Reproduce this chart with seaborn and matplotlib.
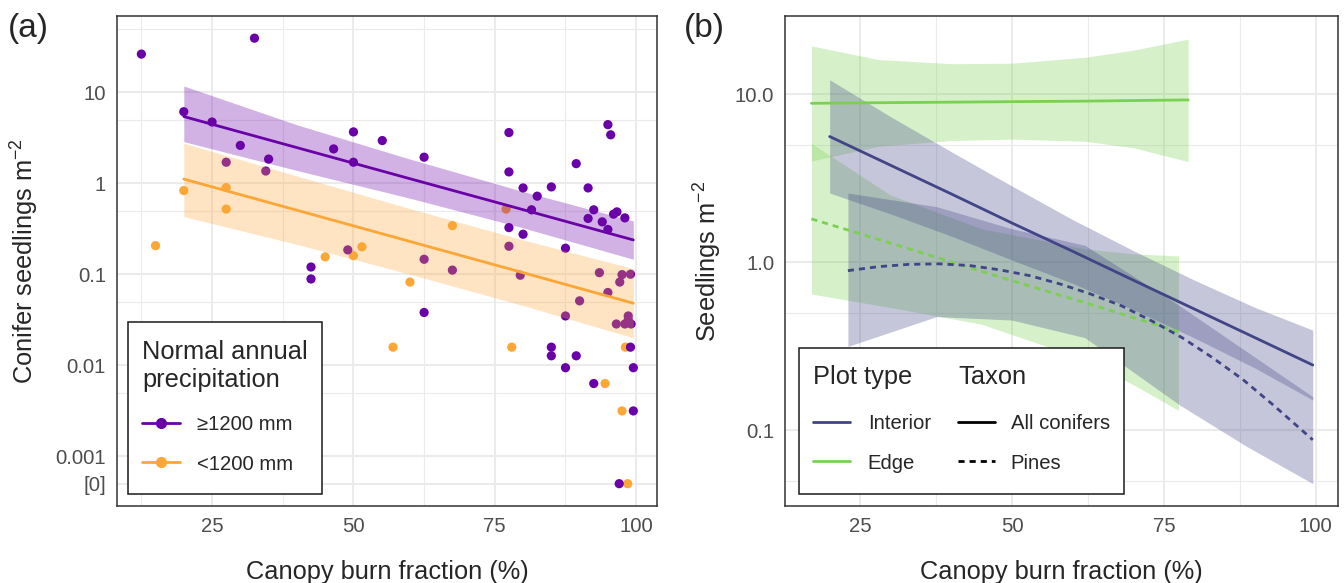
import numpy as np
import pandas as pd
import seaborn as sns
import matplotlib.pyplot as plt
from matplotlib.lines import Line2D
from matplotlib.patches import Rectangle
from matplotlib.ticker import FixedLocator, FixedFormatter, NullFormatter

# ---------- panel (a): seedlings per plot, split by normal annual precipitation
wet_burn = [12.5, 32.5, 20.0, 25.0, 30.0, 35.0, 27.5, 34.5, 46.5, 50.0, 50.0, 55.1,
            42.5, 42.5, 49.0, 62.5, 77.5, 77.5, 80.0, 82.5, 85.0, 81.5, 77.5, 80.0,
            87.5, 89.4, 91.5, 95.0, 95.5, 92.5, 91.5, 94.0, 95.0, 96.0, 96.6, 98.0,
            62.5, 67.5, 77.5, 79.5, 93.5, 97.5, 99.0, 97.1, 95.0, 90.0, 62.5, 87.5,
            85.0, 85.0, 89.4, 87.5, 92.5, 99.0, 99.5, 99.5, 97.0, 96.5, 98.0, 98.6,
            98.6, 99.1]
wet_dens = [26.2, 39.2, 6.1, 4.7, 2.6, 1.84, 1.70, 1.36, 2.38, 3.66, 1.70, 2.94,
            0.120, 0.0887, 0.185, 1.93, 3.6, 1.33, 0.887, 0.72, 0.91, 0.51, 0.325, 0.275,
            0.193, 1.64, 0.887, 4.4, 3.4, 0.51, 0.41, 0.376, 0.31, 0.457, 0.484, 0.416,
            0.146, 0.111, 0.203, 0.0975, 0.104, 0.099, 0.100, 0.082, 0.063, 0.051, 0.038, 0.0348,
            0.0158, 0.0127, 0.0127, 0.0094, 0.0063, 0.0158, 0.0094, 0.00315, 0, 0.0284, 0.0284, 0.0348,
            0.0316, 0.0284]
dry_burn = [15.0, 20.0, 27.5, 27.5, 45.0, 50.0, 51.5, 60.0, 67.5, 77.0, 57.0, 78.0,
            98.1, 94.5, 97.5, 98.5]
dry_dens = [0.206, 0.83, 0.895, 0.52, 0.155, 0.160, 0.20, 0.082, 0.342, 0.52, 0.0158, 0.0158,
            0.0158, 0.0063, 0.00315, 0]

# fitted lines + confidence bands for (a)
fit_burn = [20, 40, 60, 80, 99.5]
wet_fit = [5.4, 2.46, 1.12, 0.512, 0.238]
wet_lo = [2.86, 1.38, 0.684, 0.323, 0.146]
wet_hi = [11.7, 4.38, 1.84, 0.81, 0.385]
dry_fit = [1.11, 0.505, 0.229, 0.104, 0.048]
dry_lo = [0.43, 0.213, 0.100, 0.0453, 0.020]
dry_hi = [2.75, 1.20, 0.525, 0.238, 0.115]

precip_labels = ['≥1200 mm', '<1200 mm']

# ---------- panel (b): model predictions by plot type and taxon
int_all_x = [20, 30, 40, 50, 60, 70, 80, 90, 99.5]
int_all_fit = [5.6, 3.78, 2.55, 1.71, 1.16, 0.78, 0.526, 0.355, 0.244]
int_all_lo = [2.58, 1.94, 1.43, 1.03, 0.748, 0.521, 0.354, 0.234, 0.151]
int_all_hi = [12.2, 7.36, 4.55, 2.84, 1.79, 1.17, 0.782, 0.537, 0.394]

int_pine_x = [23, 28, 33, 38, 43, 48, 53, 58, 63, 68, 73, 78, 83, 88, 93, 99.5]
int_pine_fit = [0.89, 0.94, 0.97, 0.977, 0.955, 0.90, 0.83, 0.74, 0.645, 0.55, 0.447,
                0.355, 0.27, 0.20, 0.141, 0.0875]
int_pine_band_x = [23, 37.6, 50, 62, 77.6, 88.6, 99.5]
int_pine_lo = [0.315, 0.474, 0.452, 0.355, 0.141, 0.080, 0.048]
int_pine_hi = [2.58, 2.14, 1.58, 1.26, 0.55, 0.294, 0.158]

edge_all_x = [17, 28, 40, 50, 62, 70, 79]
edge_all_fit = [8.83, 8.9, 8.97, 9.03, 9.1, 9.17, 9.25]
edge_all_lo = [4.0, 4.9, 5.3, 5.4, 5.25, 4.8, 3.97]
edge_all_hi = [19.4, 16.1, 15.2, 15.3, 16.6, 18.3, 21.3]

edge_pine_x = [17, 30, 41, 50, 61, 70, 77.4]
edge_pine_fit = [1.81, 1.30, 0.977, 0.776, 0.589, 0.468, 0.386]
edge_pine_band_x = [17, 30, 45, 62, 70, 77.4]
edge_pine_lo = [0.646, 0.537, 0.427, 0.263, 0.186, 0.131]
edge_pine_hi = [5.1, 2.51, 1.58, 1.2, 1.12, 1.09]

# ---------- style
sns.set_style('white')
plt.rcParams['font.family'] = ['Liberation Sans', 'DejaVu Sans']
plt.rcParams['mathtext.fontset'] = 'custom'
plt.rcParams['mathtext.rm'] = 'Liberation Sans'
plt.rcParams['mathtext.it'] = 'Liberation Sans:italic'

PURPLE, ORANGE = '#6A00A8', '#FCA636'
INTERIOR, EDGE = '#414487', '#7AD151'
GRID = '#EBEBEB'
ZERO_POS = 0.0005   # where the [0] row sits on the log axis
BASE = 18.3
SMALL = 14.6

fig = plt.figure(figsize=(13.44, 5.83), dpi=100)
ax1 = fig.add_axes([0.0871, 0.1321, 0.4018, 0.8405])
ax2 = fig.add_axes([0.5843, 0.1321, 0.4110, 0.8405])


def style_axes(ax, ymaj, ylab, ymin):
    ax.set_yscale('log')
    ax.yaxis.set_major_locator(FixedLocator(ymaj))
    ax.yaxis.set_major_formatter(FixedFormatter(ylab))
    ax.yaxis.set_minor_locator(FixedLocator(ymin))
    ax.yaxis.set_minor_formatter(NullFormatter())
    ax.xaxis.set_major_locator(FixedLocator([25, 50, 75, 100]))
    ax.xaxis.set_minor_locator(FixedLocator([12.5, 37.5, 62.5, 87.5]))
    ax.grid(which='major', color=GRID, lw=1.5)
    ax.grid(which='minor', color=GRID, lw=0.8)
    ax.set_axisbelow(True)
    ax.tick_params(which='major', length=5, width=1.1, color='#333333',
                   labelcolor='#4D4D4D', labelsize=SMALL, pad=3)
    ax.tick_params(which='minor', length=0)
    for s in ax.spines.values():
        s.set_color('#333333')
        s.set_linewidth(1.1)
    ax.set_xlabel('Canopy burn fraction (%)', fontsize=BASE, labelpad=17)


# ---------- panel (a)
pts = pd.DataFrame({
    'burn': dry_burn + wet_burn,
    'dens': dry_dens + wet_dens,
    'precip': [precip_labels[1]] * len(dry_burn) + [precip_labels[0]] * len(wet_burn),
})
pts['dens_plot'] = pts['dens'].where(pts['dens'] > 0, ZERO_POS)
sns.scatterplot(data=pts, x='burn', y='dens_plot', hue='precip',
                palette={precip_labels[0]: PURPLE, precip_labels[1]: ORANGE},
                s=44, linewidth=0, alpha=1, legend=False, ax=ax1, zorder=2)

ax1.fill_between(fit_burn, wet_lo, wet_hi, color=PURPLE, alpha=0.3, lw=0, zorder=3)
ax1.fill_between(fit_burn, dry_lo, dry_hi, color=ORANGE, alpha=0.3, lw=0, zorder=3)
sns.lineplot(x=fit_burn, y=wet_fit, color=PURPLE, lw=2, ax=ax1, zorder=4)
sns.lineplot(x=fit_burn, y=dry_fit, color=ORANGE, lw=2, ax=ax1, zorder=4)

style_axes(ax1, [ZERO_POS, 0.001, 0.01, 0.1, 1, 10],
           ['[0]', '0.001', '0.01', '0.1', '1', '10'],
           [0.005, 0.05, 0.5, 5, 50])
ax1.set_xlim(8.2, 103.7)
ax1.set_ylim(10 ** -3.546, 10 ** 1.837)
ax1.set_ylabel('Conifer seedlings m$^{-2}$', fontsize=BASE, labelpad=10)

ax1.add_patch(Rectangle((0.0204, 0.0239), 0.3587, 0.351, transform=ax1.transAxes,
                        facecolor='white', edgecolor='#1A1A1A', lw=1.1, zorder=10))
h_a = [Line2D([], [], color=c, marker='o', ms=7, lw=2) for c in (PURPLE, ORANGE)]
leg_a = ax1.legend(h_a, precip_labels, title='Normal annual\nprecipitation',
                   loc='upper left', bbox_to_anchor=(0.0463, 0.339), frameon=False,
                   borderpad=0, borderaxespad=0, fontsize=SMALL, title_fontsize=BASE,
                   alignment='left', handlelength=1.85, handletextpad=0.85,
                   labelspacing=1.0)
leg_a.set_zorder(11)
leg_a._legend_box.sep = 17

# ---------- panel (b)
bands = [
    (edge_all_x, edge_all_lo, edge_all_hi, EDGE),
    (edge_pine_band_x, edge_pine_lo, edge_pine_hi, EDGE),
    (int_all_x, int_all_lo, int_all_hi, INTERIOR),
    (int_pine_band_x, int_pine_lo, int_pine_hi, INTERIOR),
]
for bx, lo, hi, c in bands:
    ax2.fill_between(bx, lo, hi, color=c, alpha=0.3, lw=0, zorder=2)

fits = pd.concat([
    pd.DataFrame({'burn': edge_all_x, 'dens': edge_all_fit, 'plot': 'Edge', 'taxon': 'All conifers'}),
    pd.DataFrame({'burn': edge_pine_x, 'dens': edge_pine_fit, 'plot': 'Edge', 'taxon': 'Pines'}),
    pd.DataFrame({'burn': int_all_x, 'dens': int_all_fit, 'plot': 'Interior', 'taxon': 'All conifers'}),
    pd.DataFrame({'burn': int_pine_x, 'dens': int_pine_fit, 'plot': 'Interior', 'taxon': 'Pines'}),
])
sns.lineplot(data=fits, x='burn', y='dens', hue='plot', style='taxon',
             palette={'Interior': INTERIOR, 'Edge': EDGE},
             dashes={'All conifers': '', 'Pines': (2.2, 1.8)},
             lw=2, sort=False, estimator=None, legend=False, ax=ax2, zorder=4)

style_axes(ax2, [0.1, 1, 10], ['0.1', '1.0', '10.0'], [0.05, 0.5, 5, 50])
ax2.set_xlim(12.7, 103.6)
ax2.set_ylim(10 ** -1.452, 10 ** 1.466)
ax2.set_ylabel('Seedlings m$^{-2}$', fontsize=BASE, labelpad=8)

ax2.add_patch(Rectangle((0.0248, 0.0245), 0.5883, 0.298, transform=ax2.transAxes,
                        facecolor='white', edgecolor='#1A1A1A', lw=1.1, zorder=10))
h_plot = [Line2D([], [], color=c, lw=2) for c in (INTERIOR, EDGE)]
h_tax = [Line2D([], [], color='black', lw=2),
         Line2D([], [], color='black', lw=2, dashes=(2.2, 1.8))]
leg_b1 = ax2.legend(h_plot, ['Interior', 'Edge'], title='Plot type', loc='upper left',
                    bbox_to_anchor=(0.050, 0.288), frameon=False, borderpad=0,
                    borderaxespad=0, fontsize=SMALL, title_fontsize=BASE,
                    alignment='left', handlelength=1.85, handletextpad=0.85,
                    labelspacing=1.02)
leg_b1._legend_box.sep = 18
leg_b1.set_zorder(11)
ax2.add_artist(leg_b1)
leg_b2 = ax2.legend(h_tax, ['All conifers', 'Pines'], title='Taxon', loc='upper left',
                    bbox_to_anchor=(0.3126, 0.288), frameon=False, borderpad=0,
                    borderaxespad=0, fontsize=SMALL, title_fontsize=BASE,
                    alignment='left', handlelength=1.85, handletextpad=0.75,
                    labelspacing=1.02)
leg_b2._legend_box.sep = 18
leg_b2.set_zorder(11)

fig.text(0.006, 0.978, '(a)', fontsize=24, va='top', ha='left')
fig.text(0.509, 0.978, '(b)', fontsize=24, va='top', ha='left')

fig.savefig('out.png', dpi=100)
